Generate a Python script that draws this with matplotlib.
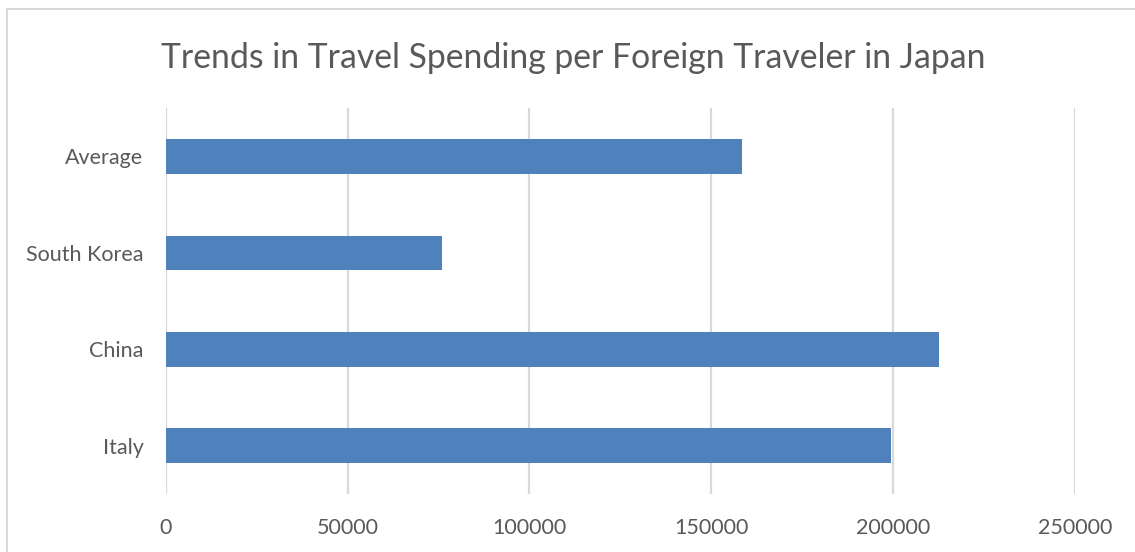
import matplotlib.pyplot as plt
from matplotlib.patches import Rectangle

# spending per traveler (yen)
countries = ['Italy', 'China', 'South Korea', 'Average']
spending = [199500, 212700, 76000, 158500]
xticks = [0, 50000, 100000, 150000, 200000, 250000]

plt.rcParams['font.family'] = ['Lato', 'DejaVu Sans']

fig = plt.figure(figsize=(11.35, 5.52), dpi=100)
ax = fig.add_axes([0.146, 0.105, 0.801, 0.699])

ax.barh(countries, spending, height=0.36, color='#4f81bd', zorder=3)
ax.set_xlim(0, 250000)
ax.set_ylim(-0.5, 3.5)
ax.set_xticks(xticks)
ax.set_xticklabels([str(t) for t in xticks])
ax.grid(axis='x', color='#d9d9d9', linewidth=1.6, zorder=0)
for s in ax.spines.values():
    s.set_visible(False)
ax.tick_params(length=0, labelsize=15.5, labelcolor='#595959')
ax.tick_params(axis='y', pad=16)
ax.tick_params(axis='x', pad=17)

fig.text(573 / 1135, 1 - 58 / 552,
         'Trends in Travel Spending per Foreign Traveler in Japan',
         fontsize=24.3, color='#595959', ha='center', va='center')

# chart frame
fig.patches.append(Rectangle((7 / 1135, -0.1), 1.2, 1 - 9 / 552 + 0.1,
                             transform=fig.transFigure, fill=False,
                             edgecolor='#d9d9d9', linewidth=1.5))

fig.savefig('out.png')
